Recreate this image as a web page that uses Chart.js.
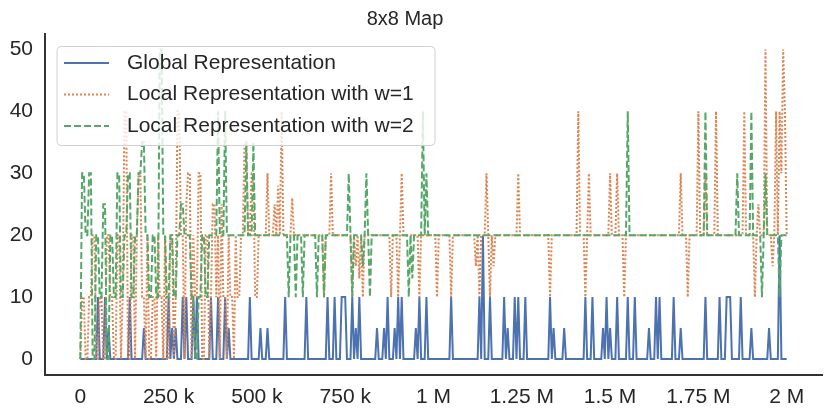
<!DOCTYPE html>
<html>
<head>
<meta charset="utf-8">
<script src="https://cdn.jsdelivr.net/npm/chart.js@4.4.0/dist/chart.umd.min.js"></script>
<style>
  body { margin: 0; background: #fff; }
  canvas { display: block; }
</style>
</head>
<body>
<canvas id="mapChart" width="831" height="416"></canvas>
<script>
// logged every 5k steps, 0 .. 2M (one row = 100k steps)
const STEP = 5000;

const globalRep = [
  0,0, 0,0, 0,0, 0,0, 0,0, 10,0, 0,0, 10,0, 5,0, 0,0,
  0,0, 0,0, 0,0, 0,0, 10,0, 0,0, 0,0, 0,0, 5,0, 0,0,
  0,0, 0,0, 0,0, 0,0, 0,0, 10,0, 5,0, 5,0, 0,0, 10,0,
  10,0, 0,0, 10,0, 10,0, 0,0, 0,0, 0,0, 10,0, 0,0, 10,0,
  0,0, 10,0, 5,0, 0,0, 0,0, 0,0, 0,0, 0,0, 10,0, 0,0,
  0,0, 5,0, 0,0, 5,0, 0,0, 0,0, 0,0, 0,0, 10,0, 0,0,
  0,0, 0,0, 0,0, 0,0, 10,0, 0,0, 0,0, 0,0, 0,0, 0,0,
  10,0, 0,0, 10,0, 0,0, 10,10, 10,0, 0,0, 10,0, 5,0, 10,0,
  0,0, 0,0, 0,0, 0,0, 5,0, 0,0, 5,0, 10,0, 0,0, 5,0,
  10,0, 10,0, 0,0, 0,0, 0,0, 5,0, 10,0, 0,0, 10,0, 0,0,
  0,0, 0,0, 0,0, 0,0, 0,0, 10,0, 0,0, 0,0, 0,0, 0,0,
  0,0, 0,0, 0,0, 10,0, 20,0, 0,0, 10,0, 0,0, 0,0, 0,0,
  10,0, 5,0, 0,0, 10,0, 10,0, 0,0, 10,0, 0,0, 0,0, 0,0,
  0,0, 0,0, 0,0, 10,0, 5,0, 0,0, 0,0, 5,0, 0,0, 0,0,
  0,0, 0,0, 0,0, 10,0, 0,0, 10,0, 0,0, 0,0, 5,0, 10,0,
  5,0, 0,0, 10,0, 0,0, 0,0, 10,0, 0,0, 10,0, 0,0, 0,0,
  0,0, 5,0, 0,0, 10,0, 10,0, 0,0, 0,0, 0,0, 10,0, 0,0,
  5,0, 0,0, 0,0, 0,0, 0,0, 0,0, 0,0, 10,0, 0,0, 0,0,
  0,0, 10,0, 0,0, 10,10, 10,0, 0,0, 0,0, 10,0, 0,0, 0,0,
  5,0, 0,0, 0,0, 0,0, 0,0, 5,0, 0,0, 0,0, 20,0, 0,0,
  0
];

const localW1 = [
  0,10, 10,0, 0,10, 10,20, 20,0, 0,10, 10,0, 0,20, 20,10, 10,0,
  0,20, 20,0, 10,40, 40,0, 0,20, 20,0, 20,30, 30,10, 10,0, 20,0,
  0,10, 10,0, 20,10, 10,0, 20,0, 0,20, 20,0, 10,40, 40,20, 20,0,
  25,30, 30,0, 20,10, 10,30, 30,0, 0,20, 20,0, 10,25, 25,10, 20,0,
  25,10, 10,0, 20,10, 10,0, 20,10, 10,20, 20,35, 35,20, 20,30, 30,10,
  10,20, 20,20, 20,20, 30,20, 20,20, 25,20, 28,20, 40,20, 20,20, 20,20,
  26,20, 20,20, 20,20, 20,20, 20,20, 20,20, 20,20, 20,20, 20,20, 10,20,
  20,20, 30,20, 20,20, 20,20, 20,20, 20,20, 20,20, 10,20, 15,20, 13,20,
  10,20, 20,20, 20,20, 20,20, 20,20, 20,20, 20,20, 20,20, 10,20, 20,20,
  10,20, 30,20, 20,20, 20,20, 20,20, 20,20, 10,20, 20,20, 20,20, 20,20,
  20,20, 10,20, 20,20, 20,20, 20,20, 10,20, 20,20, 20,20, 20,20, 20,20,
  20,20, 20,20, 15,20, 10,20, 20,20, 30,20, 10,20, 15,20, 20,20, 20,20,
  20,20, 20,20, 20,20, 20,20, 30,20, 20,20, 20,20, 20,20, 20,20, 20,20,
  20,20, 20,20, 20,20, 10,20, 20,20, 20,20, 20,20, 20,20, 20,20, 20,20,
  20,20, 40,20, 20,20, 10,20, 30,20, 20,20, 20,20, 20,20, 20,20, 20,20,
  30,20, 20,20, 30,20, 20,20, 10,20, 20,20, 20,20, 20,20, 20,20, 20,20,
  20,20, 20,20, 20,20, 20,20, 20,20, 20,20, 20,20, 20,20, 20,20, 20,20,
  30,20, 20,20, 10,20, 20,20, 20,20, 40,20, 20,20, 30,20, 20,20, 20,20,
  40,20, 20,20, 20,20, 20,20, 20,20, 20,20, 20,20, 20,20, 40,20, 20,20,
  20,20, 10,20, 25,20, 20,20, 50,20, 20,20, 15,20, 40,20, 40,30, 50,40,
  20
];

const localW2 = [
  0,30, 30,20, 20,30, 30,0, 0,20, 20,10, 10,25, 25,0, 0,20, 20,10,
  10,30, 30,10, 10,20, 20,30, 30,10, 10,20, 20,30, 30,35, 35,20, 20,10,
  10,20, 20,10, 10,50, 50,20, 20,10, 10,20, 20,10, 10,20, 20,25, 25,20,
  20,20, 20,10, 10,0, 0,10, 10,20, 20,10, 10,20, 20,20, 20,20, 40,20,
  20,20, 40,20, 20,20, 20,20, 20,20, 20,20, 20,20, 35,20, 20,20, 35,20,
  20,20, 20,20, 20,20, 20,20, 20,20, 20,20, 20,20, 20,20, 20,20, 10,20,
  20,20, 10,20, 20,20, 10,20, 20,20, 20,20, 20,20, 10,20, 20,20, 10,20,
  20,20, 20,20, 20,20, 20,20, 20,20, 20,20, 30,20, 10,20, 20,20, 20,20,
  15,20, 30,20, 10,20, 20,20, 20,20, 20,20, 20,20, 20,20, 20,20, 20,20,
  20,20, 20,20, 20,20, 10,20, 13,20, 20,20, 20,20, 40,20, 30,20, 20,20,
  20,20, 20,20, 20,20, 20,20, 20,20, 20,20, 20,20, 20,20, 20,20, 20,20,
  20,20, 20,20, 20,20, 20,20, 20,20, 20,20, 20,20, 20,20, 20,20, 20,20,
  20,20, 20,20, 20,20, 20,20, 20,20, 20,20, 20,20, 20,20, 20,20, 20,20,
  20,20, 20,20, 20,20, 20,20, 20,20, 20,20, 20,20, 20,20, 20,20, 20,20,
  20,20, 20,20, 20,20, 20,20, 20,20, 20,20, 20,20, 20,20, 20,20, 20,20,
  20,20, 20,20, 20,20, 20,20, 20,20, 40,20, 20,20, 20,20, 20,20, 20,20,
  20,20, 20,20, 20,20, 20,20, 20,20, 20,20, 20,20, 20,20, 20,20, 20,20,
  20,20, 20,20, 20,20, 20,20, 20,20, 20,20, 20,20, 40,20, 20,20, 20,20,
  20,20, 20,20, 20,20, 20,20, 20,20, 20,20, 30,20, 20,20, 20,20, 20,20,
  40,20, 20,20, 20,20, 10,20, 30,20, 20,20, 20,20, 20,20, 10,20, 20,20,
  20
];

const xTickValues = [0, 250000, 500000, 750000, 1000000, 1250000, 1500000, 1750000, 2000000];
const xTickLabels = ['0', '250 k', '500 k', '750 k', '1 M', '1.25 M', '1.5 M', '1.75 M', '2 M'];
const yTickValues = [0, 10, 20, 30, 40, 50];

const FONT = "'Liberation Sans', Arial, sans-serif";
const TEXT_COLOR = '#262626';

function toPoints(values) {
    return values.map((v, i) => ({ x: i * STEP, y: v }));
}

// title + boxed legend drawn inside the plot, matplotlib style
const mapDecor = {
    id: 'mapDecor',
    afterDraw(chart) {
        const ctx = chart.ctx;
        ctx.save();
        ctx.fillStyle = TEXT_COLOR;
        ctx.font = '20px ' + FONT;
        ctx.textAlign = 'center';
        ctx.textBaseline = 'alphabetic';
        ctx.fillText('8x8 Map', 405, 25);

        // legend box
        const bx = 57, by = 46.5, bw = 378, bh = 99, r = 4;
        ctx.beginPath();
        ctx.moveTo(bx + r, by);
        ctx.lineTo(bx + bw - r, by);
        ctx.arcTo(bx + bw, by, bx + bw, by + r, r);
        ctx.lineTo(bx + bw, by + bh - r);
        ctx.arcTo(bx + bw, by + bh, bx + bw - r, by + bh, r);
        ctx.lineTo(bx + r, by + bh);
        ctx.arcTo(bx, by + bh, bx, by + bh - r, r);
        ctx.lineTo(bx, by + r);
        ctx.arcTo(bx, by, bx + r, by, r);
        ctx.closePath();
        ctx.fillStyle = 'rgba(255,255,255,0.8)';
        ctx.fill();
        ctx.strokeStyle = '#d0d0d0';
        ctx.lineWidth = 1;
        ctx.stroke();

        const rows = [63, 94.5, 126];
        chart.data.datasets.forEach((ds, i) => {
            const y = rows[i];
            ctx.beginPath();
            ctx.setLineDash(ds.borderDash || []);
            ctx.strokeStyle = ds.borderColor;
            ctx.lineWidth = ds.borderWidth;
            ctx.moveTo(64, y);
            ctx.lineTo(109, y);
            ctx.stroke();
            ctx.setLineDash([]);
            ctx.fillStyle = TEXT_COLOR;
            ctx.font = '21px ' + FONT;
            ctx.textAlign = 'left';
            ctx.textBaseline = 'middle';
            ctx.fillText(ds.label, 127, y);
        });
        ctx.restore();
    }
};

const ctx = document.getElementById('mapChart');
new Chart(ctx, {
    type: 'line',
    data: {
        datasets: [{
            label: 'Global Representation',
            data: toPoints(globalRep),
            borderColor: '#4c72b0',
            borderWidth: 2,
            order: 3
        }, {
            label: 'Local Representation with w=1',
            data: toPoints(localW1),
            borderColor: '#dd8452',
            borderWidth: 2,
            borderDash: [2, 2],
            order: 2
        }, {
            label: 'Local Representation with w=2',
            data: toPoints(localW2),
            borderColor: '#55a868',
            borderWidth: 2,
            borderDash: [7, 3],
            order: 1
        }]
    },
    options: {
        responsive: false,
        animation: false,
        layout: { padding: { top: 34, right: 9, left: 0, bottom: 0 } },
        elements: {
            point: { radius: 0 },
            line: { tension: 0, fill: false, borderJoinStyle: 'miter' }
        },
        plugins: {
            legend: { display: false },
            title: { display: false },
            tooltip: { enabled: false }
        },
        scales: {
            x: {
                type: 'linear',
                min: -100000,
                max: 2100000,
                grid: { display: false, drawTicks: false },
                border: { display: true, color: '#333333', width: 2 },
                afterBuildTicks: (axis) => { axis.ticks = xTickValues.map(v => ({ value: v })); },
                afterFit: (axis) => { axis.height = 41.5; },
                ticks: {
                    autoSkip: false,
                    maxRotation: 0,
                    padding: 10,
                    color: TEXT_COLOR,
                    font: { family: FONT, size: 21 },
                    callback: (value, index) => xTickLabels[index]
                }
            },
            y: {
                min: -2.5,
                max: 52.5,
                grid: { display: false, drawTicks: false },
                border: { display: true, color: '#333333', width: 2 },
                afterBuildTicks: (axis) => { axis.ticks = yTickValues.map(v => ({ value: v })); },
                afterFit: (axis) => { axis.width = 45; },
                ticks: {
                    padding: 12,
                    color: TEXT_COLOR,
                    font: { family: FONT, size: 21 },
                    callback: (value) => String(value)
                }
            }
        }
    },
    plugins: [mapDecor]
});
</script>
</body>
</html>
